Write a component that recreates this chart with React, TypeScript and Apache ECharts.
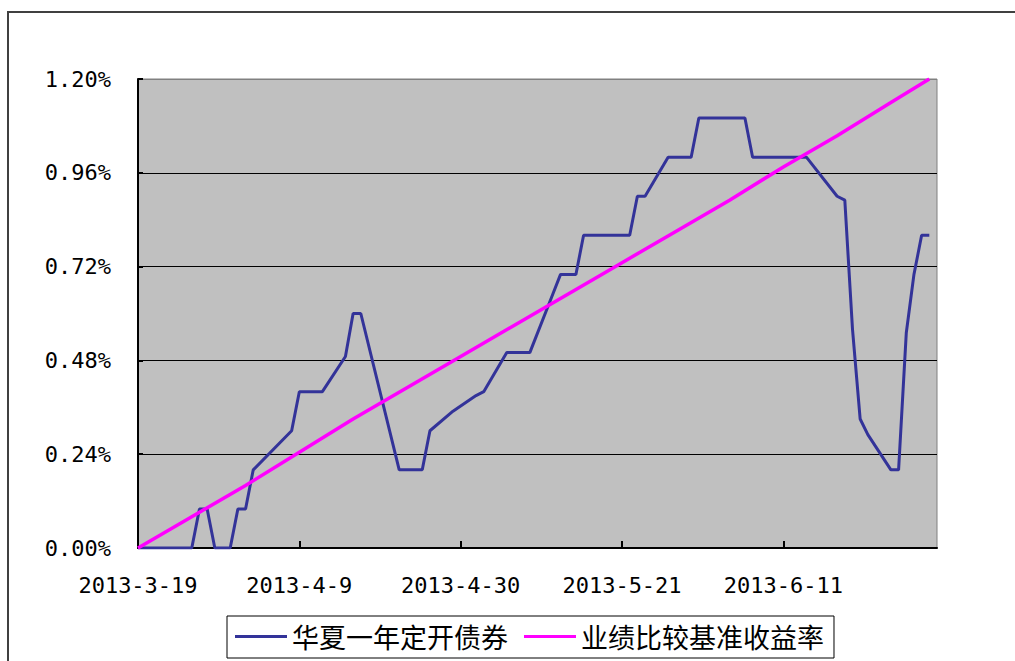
import React, { useEffect, useRef } from "react";
import * as echarts from "echarts";

const seriesNames = ["华夏一年定开债券", "业绩比较基准收益率"];

const fundDates = [
  "2013-3-19", "2013-3-26", "2013-3-27", "2013-3-28", "2013-3-29", "2013-3-31",
  "2013-4-1", "2013-4-2", "2013-4-3", "2013-4-8", "2013-4-9", "2013-4-12",
  "2013-4-15", "2013-4-16", "2013-4-17", "2013-4-22", "2013-4-25", "2013-4-26",
  "2013-4-29", "2013-5-2", "2013-5-3", "2013-5-6", "2013-5-9", "2013-5-12",
  "2013-5-13", "2013-5-15", "2013-5-16", "2013-5-22", "2013-5-23", "2013-5-24",
  "2013-5-27", "2013-5-30", "2013-5-31", "2013-6-6", "2013-6-7", "2013-6-14",
  "2013-6-18", "2013-6-19", "2013-6-20", "2013-6-21", "2013-6-22", "2013-6-25",
  "2013-6-26", "2013-6-27", "2013-6-28", "2013-6-29", "2013-6-30",
];
const fundValues = [
  0, 0, 0.1, 0.1, 0, 0,
  0.1, 0.1, 0.2, 0.3, 0.4, 0.4,
  0.49, 0.6, 0.6, 0.2, 0.2, 0.3,
  0.35, 0.39, 0.4, 0.5, 0.5, 0.65,
  0.7, 0.7, 0.8, 0.8, 0.9, 0.9,
  1.0, 1.0, 1.1, 1.1, 1.0, 1.0,
  0.9, 0.89, 0.56, 0.33, 0.29, 0.2,
  0.2, 0.55, 0.7, 0.8, 0.8,
];

const benchDates = [
  "2013-3-19", "2013-3-26", "2013-4-2", "2013-4-9", "2013-4-16", "2013-4-23",
  "2013-4-30", "2013-5-7", "2013-5-14", "2013-5-21", "2013-5-28", "2013-6-4",
  "2013-6-11", "2013-6-18", "2013-6-25", "2013-6-30",
];
const benchValues = [
  0, 0.08, 0.16, 0.245, 0.33, 0.41,
  0.49, 0.57, 0.65, 0.73, 0.81, 0.89,
  0.975, 1.055, 1.14, 1.2,
];

const tickDates = ["2013-3-19", "2013-4-9", "2013-4-30", "2013-5-21", "2013-6-11"];
const axisStart = "2013-3-19";
const axisEnd = "2013-7-1";
const yMin = 0;
const yMax = 1.2;
const yStep = 0.24;

const DAY = 86400000;
const toMs = (s: string) => {
  const [y, m, d] = s.split("-").map(Number);
  return Date.UTC(y, m - 1, d);
};
const startMs = toMs(axisStart);
const toDay = (s: string) => Math.round((toMs(s) - startMs) / DAY);
const dayToLabel = (d: number) => {
  const dt = new Date(startMs + d * DAY);
  return `${dt.getUTCFullYear()}-${dt.getUTCMonth() + 1}-${dt.getUTCDate()}`;
};

export default function App() {
  const ref = useRef<HTMLDivElement>(null);
  useEffect(() => {
    if (!ref.current) return;
    const chart = echarts.init(ref.current, null, { renderer: "svg" });
    const tickDays = tickDates.map(toDay);
    const fundData = fundDates.map((d, i) => [toDay(d), fundValues[i]]);
    const benchData = benchDates.map((d, i) => [toDay(d), benchValues[i]]);
    chart.setOption({
      animation: false,
      backgroundColor: "#ffffff",
      graphic: [
        {
          type: "polyline",
          shape: { points: [[8, 720], [8, 12], [1100, 12]] },
          style: { fill: "none", stroke: "#404040", lineWidth: 2 },
          z: -10,
        },
      ],
      grid: {
        left: 138,
        top: 79,
        width: 799,
        height: 469,
        show: true,
        backgroundColor: "#C0C0C0",
        borderColor: "#808080",
        borderWidth: 1,
      },
      legend: {
        left: 227,
        top: 616,
        orient: "horizontal",
        data: seriesNames,
        icon: "rect",
        itemWidth: 52,
        itemHeight: 3,
        itemGap: 16,
        borderColor: "#000000",
        borderWidth: 1,
        padding: [7, 10, 8, 8],
        textStyle: {
          fontFamily: "Noto Sans CJK SC",
          fontSize: 27,
          color: "#000000",
        },
      },
      xAxis: {
        type: "value",
        min: 0,
        max: toDay(axisEnd),
        interval: 21,
        axisLine: { show: true, lineStyle: { color: "#000000", width: 2 } },
        axisTick: {
          show: true,
          inside: true,
          length: 7,
          customValues: tickDays,
          lineStyle: { color: "#000000", width: 2 },
        },
        splitLine: { show: false },
        axisLabel: {
          customValues: tickDays,
          margin: 26,
          fontFamily: "DejaVu Sans Mono",
          fontSize: 22,
          color: "#000000",
          formatter: (v: number) => dayToLabel(v),
        },
      },
      yAxis: {
        type: "value",
        min: yMin,
        max: yMax,
        interval: yStep,
        axisLine: { show: true, lineStyle: { color: "#000000", width: 2 } },
        axisTick: {
          show: true,
          inside: true,
          length: 5,
          lineStyle: { color: "#000000", width: 2 },
        },
        splitLine: {
          show: true,
          lineStyle: {
            color: ["#000000", "#000000", "#000000", "#000000", "#000000", "#808080"],
            width: 1,
          },
        },
        axisLabel: {
          margin: 27,
          fontFamily: "DejaVu Sans Mono",
          fontSize: 22,
          color: "#000000",
          formatter: (v: number) => `${v.toFixed(2)}%`,
        },
      },
      series: [
        {
          name: seriesNames[0],
          type: "line",
          data: fundData,
          showSymbol: false,
          symbol: "none",
          itemStyle: { color: "#333399" },
          lineStyle: { color: "#333399", width: 3 },
          z: 3,
        },
        {
          name: seriesNames[1],
          type: "line",
          data: benchData,
          showSymbol: false,
          symbol: "none",
          itemStyle: { color: "#FF00FF" },
          lineStyle: { color: "#FF00FF", width: 3.5 },
          z: 4,
        },
      ],
    });
    return () => chart.dispose();
  }, []);
  return (
    <div
      ref={ref}
      style={{ position: "fixed", left: 0, top: 0, width: 1015, height: 661 }}
    />
  );
}
